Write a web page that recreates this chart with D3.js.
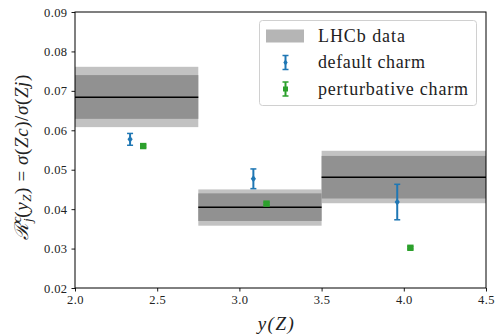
<!DOCTYPE html>
<html>
<head>
<meta charset="utf-8">
<script src="https://cdn.jsdelivr.net/npm/d3@7"></script>
<style>
  body { margin: 0; background: #fff; }
  svg { display: block; }
</style>
</head>
<body>
<div class="output"><svg width="497" height="336"></svg></div>
<script>
// bins of y(Z)
var binLo = [2.0, 2.75, 3.5];
var binHi = [2.75, 3.5, 4.5];

// LHCb data: central value, inner and outer bands
var lhcbMid = [0.0684, 0.0405, 0.0481];
var innerLo = [0.0629, 0.0370, 0.0427];
var innerHi = [0.0740, 0.0440, 0.0535];
var outerLo = [0.0608, 0.0358, 0.0415];
var outerHi = [0.0761, 0.0450, 0.0548];

// default charm
var defX = [2.335, 3.085, 3.96];
var defY = [0.0577, 0.0477, 0.0418];
var defErr = [0.0015, 0.0025, 0.0045];

// perturbative charm
var pertX = [2.415, 3.165, 4.04];
var pertY = [0.0560, 0.0414, 0.0302];
var pertErr = [0.0003, 0.0003, 0.0003];

var xTicks = [2.0, 2.5, 3.0, 3.5, 4.0, 4.5];
var yTicks = [0.02, 0.03, 0.04, 0.05, 0.06, 0.07, 0.08, 0.09];

var legendLabels = ["LHCb data", "default charm", "perturbative charm"];
var legendWidths = [87, 107, 150];

var blue = "#1f77b4", green = "#2ca02c";
var font = "Liberation Serif";

// plot frame (window.top is reserved, so use a prefix)
var pLeft = 75, pRight = 486, pTop = 12, pBottom = 288;

var svg = d3.select("div.output svg");

var x = d3.scaleLinear().domain([2.0, 4.5]).range([pLeft, pRight]);
var y = d3.scaleLinear().domain([0.02, 0.09]).range([pBottom, pTop]);

//-------------------- LHCb bands --------------------
var bins = d3.range(binLo.length);

svg.selectAll("rect.outer")
  .data(bins)
  .enter().append("rect")
    .attr("x", function(i){ return x(binLo[i]); })
    .attr("width", function(i){ return x(binHi[i]) - x(binLo[i]); })
    .attr("y", function(i){ return y(outerHi[i]); })
    .attr("height", function(i){ return y(outerLo[i]) - y(outerHi[i]); })
    .style("fill", "#c2c2c2");

svg.selectAll("rect.inner")
  .data(bins)
  .enter().append("rect")
    .attr("x", function(i){ return x(binLo[i]); })
    .attr("width", function(i){ return x(binHi[i]) - x(binLo[i]); })
    .attr("y", function(i){ return y(innerHi[i]); })
    .attr("height", function(i){ return y(innerLo[i]) - y(innerHi[i]); })
    .style("fill", "#919191");

svg.selectAll("line.mid")
  .data(bins)
  .enter().append("line")
    .attr("x1", function(i){ return x(binLo[i]); })
    .attr("x2", function(i){ return x(binHi[i]); })
    .attr("y1", function(i){ return y(lhcbMid[i]); })
    .attr("y2", function(i){ return y(lhcbMid[i]); })
    .style("stroke", "#000")
    .style("stroke-width", 1.5);

//-------------------- points with error bars --------------------
function errorbars(xs, ys, es, color, marker){
  var g = svg.append("g");
  var idx = d3.range(xs.length);
  g.selectAll("line.bar").data(idx).enter().append("line")
    .attr("x1", function(i){ return x(xs[i]); })
    .attr("x2", function(i){ return x(xs[i]); })
    .attr("y1", function(i){ return y(ys[i] - es[i]); })
    .attr("y2", function(i){ return y(ys[i] + es[i]); })
    .style("stroke", color).style("stroke-width", 2);
  [-1, 1].forEach(function(s){
    g.selectAll("line.cap" + (s + 1)).data(idx).enter().append("line")
      .attr("x1", function(i){ return x(xs[i]) - 3; })
      .attr("x2", function(i){ return x(xs[i]) + 3; })
      .attr("y1", function(i){ return y(ys[i] + s * es[i]); })
      .attr("y2", function(i){ return y(ys[i] + s * es[i]); })
      .style("stroke", color).style("stroke-width", 1.5);
  });
  g.selectAll("path.mk").data(idx).enter().append("path")
    .attr("transform", function(i){ return "translate(" + x(xs[i]) + "," + y(ys[i]) + ")"; })
    .attr("d", marker)
    .style("fill", color);
}

var diamond = "M0,-3.5L2.6,0L0,3.5L-2.6,0Z";
var square = "M-3.2,-3.2H3.2V3.2H-3.2Z";

errorbars(defX, defY, defErr, blue, diamond);
errorbars(pertX, pertY, pertErr, green, square);

//-------------------- axes --------------------
svg.append("rect")
  .attr("x", pLeft).attr("y", pTop)
  .attr("width", pRight - pLeft).attr("height", pBottom - pTop)
  .style("fill", "none").style("stroke", "#000").style("stroke-width", 1);

var xAxis = svg.append("g")
  .attr("transform", "translate(0," + pBottom + ")")
  .call(d3.axisBottom(x).tickValues(xTicks).tickFormat(d3.format(".1f")).tickSize(3.5).tickPadding(4));
var yAxis = svg.append("g")
  .attr("transform", "translate(" + pLeft + ",0)")
  .call(d3.axisLeft(y).tickValues(yTicks).tickFormat(d3.format(".2f")).tickSize(3.5).tickPadding(4));

[xAxis, yAxis].forEach(function(a){
  a.select(".domain").remove();
  a.selectAll("text").style("font-family", font).style("font-size", "12.5px")
    .style("letter-spacing", "0.4px").attr("fill", "#222");
  a.selectAll("line").style("stroke", "#000").style("stroke-width", 0.9);
});

//-------------------- labels --------------------
svg.append("text")
  .attr("x", (pLeft + pRight) / 2 - 4)
  .attr("y", 330)
  .attr("text-anchor", "middle")
  .style("font-family", font)
  .style("font-size", "19px")
  .style("letter-spacing", "1.5px")
  .style("font-style", "italic")
  .attr("fill", "#222")
  .text("y(Z)");

var ylab = svg.append("text")
  .attr("transform", "translate(28," + ((pTop + pBottom) / 2 + 7) + ") rotate(-90)")
  .attr("text-anchor", "middle")
  .style("font-family", font)
  .style("font-size", "19px")
  .style("letter-spacing", "0.6px")
  .attr("fill", "#222");
ylab.append("tspan").style("font-style", "italic").text("ℛ");
ylab.append("tspan").style("font-style", "italic").style("font-size", "13px").attr("dy", -7).text("c");
ylab.append("tspan").style("font-style", "italic").style("font-size", "13px").attr("dx", -6).attr("dy", 11).text("j");
ylab.append("tspan").attr("dy", -4).text("(");
ylab.append("tspan").style("font-style", "italic").text("y");
ylab.append("tspan").style("font-style", "italic").style("font-size", "13px").attr("dy", 3).text("Z");
ylab.append("tspan").attr("dy", -3).text(") = ");
ylab.append("tspan").style("font-style", "italic").text("σ");
ylab.append("tspan").text("(");
ylab.append("tspan").style("font-style", "italic").text("Zc");
ylab.append("tspan").text(")/");
ylab.append("tspan").style("font-style", "italic").text("σ");
ylab.append("tspan").text("(");
ylab.append("tspan").style("font-style", "italic").text("Zj");
ylab.append("tspan").text(")");

//-------------------- legend --------------------
var leg = svg.append("g");
leg.append("rect")
  .attr("x", 259.5).attr("y", 20.5)
  .attr("width", 217).attr("height", 85)
  .attr("rx", 3)
  .style("fill", "#fff").style("fill-opacity", 0.8)
  .style("stroke", "#d0d0d0").style("stroke-width", 1);

var rowY = [36, 62.5, 89];
leg.append("rect")
  .attr("x", 266).attr("y", rowY[0] - 6.5)
  .attr("width", 38).attr("height", 13)
  .style("fill", "#b5b5b5");

[[blue, diamond], [green, square]].forEach(function(s, k){
  var cy = rowY[k + 1], cx = 285.5;
  leg.append("line").attr("x1", cx).attr("x2", cx).attr("y1", cy - 7).attr("y2", cy + 7)
    .style("stroke", s[0]).style("stroke-width", 2);
  leg.append("line").attr("x1", cx - 3).attr("x2", cx + 3).attr("y1", cy - 7).attr("y2", cy - 7)
    .style("stroke", s[0]).style("stroke-width", 1.5);
  leg.append("line").attr("x1", cx - 3).attr("x2", cx + 3).attr("y1", cy + 7).attr("y2", cy + 7)
    .style("stroke", s[0]).style("stroke-width", 1.5);
  leg.append("path").attr("transform", "translate(" + cx + "," + cy + ")")
    .attr("d", k === 0 ? "M0,-3L2.2,0L0,3L-2.2,0Z" : "M-2.5,-2.5H2.5V2.5H-2.5Z")
    .style("fill", s[0]);
});

leg.selectAll("text.lab")
  .data(legendLabels)
  .enter().append("text")
    .attr("x", 318)
    .attr("y", function(d, i){ return rowY[i] + 5.5; })
    .style("font-family", font)
    .style("font-size", "18px")
    .attr("textLength", function(d, i){ return legendWidths[i]; })
    .attr("lengthAdjust", "spacing")
    .attr("fill", "#222")
    .text(function(d){ return d; });
</script>
</body>
</html>
